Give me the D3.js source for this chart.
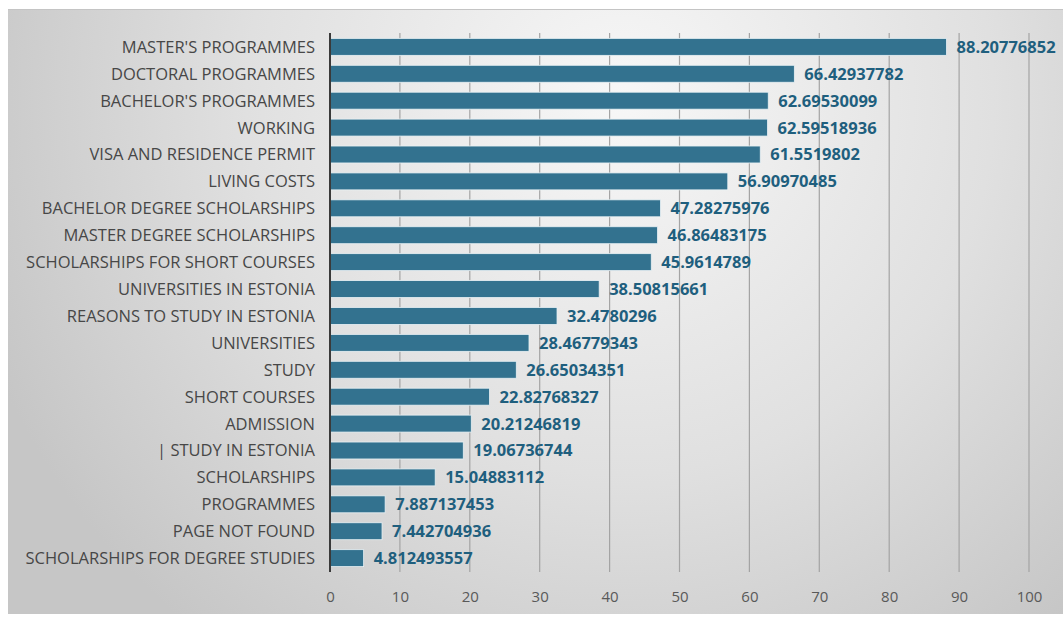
<!DOCTYPE html>
<meta charset="utf-8">
<style>
    body { margin: 0; background: #fff; }
    text { font-family: "Open Sans", "Liberation Sans", sans-serif; }
    .cat { font-size: 16.5px; fill: #474747; }
    .val { font-size: 16.5px; font-weight: bold; fill: #1f5f7e; }
    .tick text { font-size: 15px; fill: #595959; }
</style>
<body>
<script src="https://d3js.org/d3.v7.min.js"></script>
<script>
var categories = ["MASTER'S PROGRAMMES", "DOCTORAL PROGRAMMES", "BACHELOR'S PROGRAMMES", "WORKING ",
    "VISA AND RESIDENCE PERMIT", "LIVING COSTS", "BACHELOR DEGREE SCHOLARSHIPS", "MASTER DEGREE SCHOLARSHIPS",
    "SCHOLARSHIPS FOR SHORT COURSES", "UNIVERSITIES IN ESTONIA", "REASONS TO STUDY IN ESTONIA", "UNIVERSITIES",
    "STUDY", "SHORT COURSES", "ADMISSION", "| STUDY IN ESTONIA", "SCHOLARSHIPS", "PROGRAMMES",
    "PAGE NOT FOUND", "SCHOLARSHIPS FOR DEGREE STUDIES"];
var values = [88.20776852, 66.42937782, 62.69530099, 62.59518936, 61.5519802, 56.90970485, 47.28275976,
    46.86483175, 45.9614789, 38.50815661, 32.4780296, 28.46779343, 26.65034351, 22.82768327, 20.21246819,
    19.06736744, 15.04883112, 7.887137453, 7.442704936, 4.812493557];
var labels = ["88.20776852", "66.42937782", "62.69530099", "62.59518936", "61.5519802", "56.90970485",
    "47.28275976", "46.86483175", "45.9614789", "38.50815661", "32.4780296", "28.46779343", "26.65034351",
    "22.82768327", "20.21246819", "19.06736744", "15.04883112", "7.887137453", "7.442704936", "4.812493557"];
var ticks = [0, 10, 20, 30, 40, 50, 60, 70, 80, 90, 100];

var W = 1063, H = 617;
var svg = d3.select("body").append("svg").attr("width", W).attr("height", H);

// background panel
var defs = svg.append("defs");
var rg = defs.append("radialGradient").attr("id", "bg")
    .attr("gradientUnits", "userSpaceOnUse")
    .attr("cx", 620).attr("cy", 100).attr("r", 680);
rg.append("stop").attr("offset", "0%").attr("stop-color", "#f7f7f7");
rg.append("stop").attr("offset", "55%").attr("stop-color", "#e0e0e0");
rg.append("stop").attr("offset", "100%").attr("stop-color", "#c6c6c6");
svg.append("rect").attr("x", 8).attr("y", 9).attr("width", W - 8).attr("height", 605).attr("fill", "url(#bg)");
svg.append("line").attr("x1", 8).attr("x2", W).attr("y1", 9.5).attr("y2", 9.5).attr("stroke", "#c4c4c4");

var x = d3.scaleLinear().domain([0, 100]).range([330, 1029]);
var y = d3.scaleBand().domain(categories).range([33, 572]).paddingInner(0.37).paddingOuter(0.2);

// gridlines
svg.append("g").selectAll("line").data(ticks.slice(1)).join("line")
    .attr("x1", d => x(d)).attr("x2", d => x(d))
    .attr("y1", 33).attr("y2", 572)
    .attr("stroke", "#a4a4a4").attr("stroke-width", 1.2);

// bars
svg.append("g").selectAll("rect").data(values).join("rect")
    .attr("x", x(0))
    .attr("y", (d, i) => y(categories[i]))
    .attr("width", d => x(d) - x(0))
    .attr("height", y.bandwidth())
    .attr("fill", "#33728f")
    .attr("stroke", "#eaf2f5").attr("stroke-width", 0.8);

// value labels
svg.append("g").selectAll("text").data(values).join("text")
    .attr("class", "val")
    .attr("x", d => x(d) + 10)
    .attr("y", (d, i) => y(categories[i]) + y.bandwidth() / 2)
    .attr("dy", "0.36em")
    .text((d, i) => labels[i]);

// category labels
svg.append("g").selectAll("text").data(categories).join("text")
    .attr("class", "cat")
    .attr("x", 315)
    .attr("y", d => y(d) + y.bandwidth() / 2)
    .attr("dy", "0.36em")
    .attr("text-anchor", "end")
    .text(d => d);

// axis line
svg.append("line").attr("x1", x(0)).attr("x2", x(0)).attr("y1", 33).attr("y2", 572)
    .attr("stroke", "#3a3a3a").attr("stroke-width", 2);

// x axis tick labels
var ax = svg.append("g").attr("transform", "translate(0,572)")
    .call(d3.axisBottom(x).tickValues(ticks).tickSize(0).tickPadding(19));
ax.select(".domain").remove();
</script>
</body>
